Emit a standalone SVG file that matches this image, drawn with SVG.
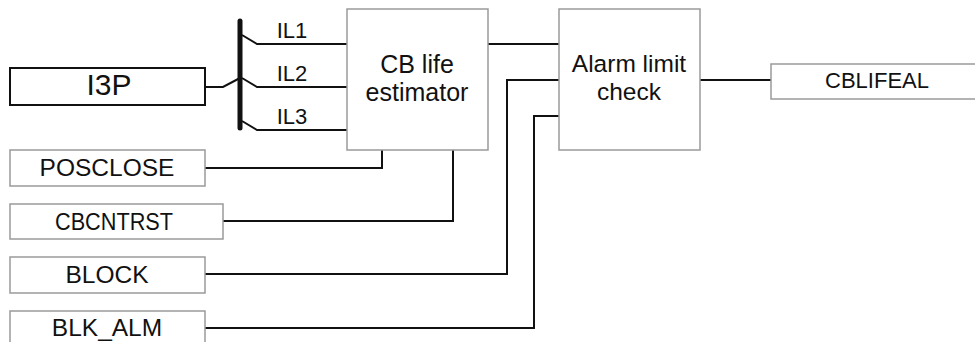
<svg xmlns="http://www.w3.org/2000/svg" width="975" height="342" viewBox="0 0 975 342">
<style>
.box{fill:#fff;stroke:#9a9a9a;stroke-width:1.5}
.dark{fill:#fff;stroke:#111;stroke-width:2}
.t{font-family:"Liberation Sans",Arial,sans-serif;fill:#111;text-anchor:middle}
.w{fill:none;stroke:#111;stroke-width:2}
</style>
<rect width="975" height="342" fill="#fff"/>
<g id="connectors">
<polyline class="w" points="205,87 223,87 240,78"/>
<line x1="240" y1="21" x2="240" y2="128" stroke="#111" stroke-width="5" stroke-linecap="round"/>
<polyline class="w" points="242,35 257,44 347,44"/>
<polyline class="w" points="242,78 257,87 347,87"/>
<polyline class="w" points="242,121 257,130 347,130"/>
<line class="w" x1="488" y1="44" x2="559" y2="44"/>
<line class="w" x1="700" y1="80" x2="771" y2="80"/>
<polyline class="w" points="205,168 382,168 382,150"/>
<polyline class="w" points="223,221 453,221 453,150"/>
<polyline class="w" points="205,274 507,274 507,80 559,80"/>
<polyline class="w" points="205,328 534,328 534,116 559,116"/>
<text class="t" x="292" y="38" font-size="22">IL1</text>
<text class="t" x="292" y="81" font-size="22">IL2</text>
<text class="t" x="292" y="124" font-size="22">IL3</text>
</g>
<g id="I3P">
<rect class="dark" x="10" y="68" width="195" height="37"/>
<text class="t" x="109" y="95" font-size="30">I3P</text>
</g>
<g id="cb_life_estimator">
<rect class="box" x="347" y="9" width="141" height="141"/>
<text class="t" x="417" y="73" font-size="25">CB life</text>
<text class="t" x="417" y="101" font-size="25">estimator</text>
</g>
<g id="alarm_limit_check">
<rect class="box" x="559" y="9" width="141" height="141"/>
<text class="t" x="629" y="72" font-size="24.5">Alarm limit</text>
<text class="t" x="629" y="100" font-size="24.5">check</text>
</g>
<g id="CBLIFEAL">
<rect class="box" x="771" y="64" width="210" height="35"/>
<text class="t" x="877" y="88" font-size="22">CBLIFEAL</text>
</g>
<g id="POSCLOSE">
<rect class="box" x="10" y="150" width="195" height="36"/>
<text class="t" x="107" y="176" font-size="24.5">POSCLOSE</text>
</g>
<g id="CBCNTRST">
<rect class="box" x="10" y="204" width="213" height="35"/>
<text class="t" x="114" y="230" font-size="24.5" textLength="118" lengthAdjust="spacingAndGlyphs">CBCNTRST</text>
</g>
<g id="BLOCK">
<rect class="box" x="10" y="257" width="195" height="36"/>
<text class="t" x="107" y="283" font-size="24.5">BLOCK</text>
</g>
<g id="BLK_ALM">
<rect class="box" x="10" y="311" width="195" height="40"/>
<text class="t" x="107" y="336" font-size="24.5">BLK_ALM</text>
</g>
</svg>
